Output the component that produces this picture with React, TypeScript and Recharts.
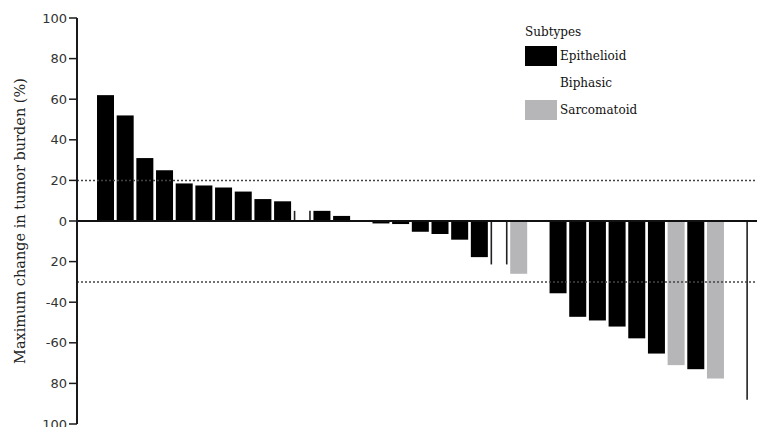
import React from 'react';
import { BarChart, Bar, XAxis, YAxis, ReferenceLine } from 'recharts';

// one bar per patient, sorted by best response
const patients = [
  'P01', 'P02', 'P03', 'P04', 'P05', 'P06', 'P07', 'P08', 'P09', 'P10',
  'P11', 'P12', 'P13', 'P14', 'P15', 'P16', 'P17', 'P18', 'P19', 'P20',
  'P21', 'P22', 'P23', 'P24', 'P25', 'P26', 'P27', 'P28', 'P29', 'P30',
  'P31', 'P32', 'P33', 'P34',
];

const maxChange = [
  62, 52, 31, 25, 18.5, 17.5, 16.5, 14.5, 10.8, 9.7,
  5, 5, 2.5, 0, -1.2, -1.5, -5.3, -6.4, -9.2, -17.8,
  -21.4, -26, 0, -35.6, -47.2, -49, -52, -57.8, -65.3, -71,
  -73, -77.6, 0, -88,
];

const subtype = [
  'Epithelioid', 'Epithelioid', 'Epithelioid', 'Epithelioid', 'Epithelioid',
  'Epithelioid', 'Epithelioid', 'Epithelioid', 'Epithelioid', 'Epithelioid',
  'Biphasic', 'Epithelioid', 'Epithelioid', 'Biphasic', 'Epithelioid',
  'Epithelioid', 'Epithelioid', 'Epithelioid', 'Epithelioid', 'Epithelioid',
  'Biphasic', 'Sarcomatoid', 'Biphasic', 'Epithelioid', 'Epithelioid',
  'Epithelioid', 'Epithelioid', 'Epithelioid', 'Epithelioid', 'Sarcomatoid',
  'Epithelioid', 'Sarcomatoid', 'Biphasic', 'Biphasic',
];

const legendItems = ['Epithelioid', 'Biphasic', 'Sarcomatoid'];

const yTicks = [100, 80, 60, 40, 20, 0, -20, -40, -60, -80, -100];
// labels as printed on the figure
const yTickLabels = ['100', '80', '60', '40', '20', '0', '20', '-40', '-60', '80', '100'];

const thresholds = [20, -30];

const fills: Record<string, string> = {
  Epithelioid: '#000000',
  Biphasic: '#ffffff',
  Sarcomatoid: '#b6b6b9',
};

const data = patients.map((id, i) => ({ id, change: maxChange[i], subtype: subtype[i] }));

function SubtypeBar(props: any) {
  const { x, y, width, height, payload } = props;
  const top = Math.min(y, y + height);
  const h = Math.abs(height);
  if (!h) return null;
  if (payload.subtype === 'Biphasic') {
    return (
      <g>
        <line x1={x + 0.8} x2={x + 0.8} y1={top} y2={top + h} stroke="#222" strokeWidth={1.6} />
        <line x1={x + width - 0.8} x2={x + width - 0.8} y1={top} y2={top + h} stroke="#222" strokeWidth={1.6} />
      </g>
    );
  }
  return <rect x={x} y={top} width={width} height={h} fill={fills[payload.subtype]} />;
}

const serif = '"DejaVu Serif", serif';

export default function App() {
  return (
    <div style={{ position: 'relative', width: 757, height: 427, overflow: 'hidden', background: '#fff' }}>
      <style>{'body{margin:0}'}</style>
      <BarChart
        width={775}
        height={427}
        data={data}
        margin={{ top: 18, right: 0, left: 0, bottom: 3 }}
        barSize={17}
      >
        <XAxis dataKey="id" hide padding={{ left: 19, right: 10 }} />
        <YAxis
          width={77}
          domain={[-100, 100]}
          ticks={yTicks}
          interval={0}
          tickFormatter={(v) => yTickLabels[yTicks.indexOf(v)] ?? String(v)}
          axisLine={{ stroke: '#1a1a1a', strokeWidth: 2 }}
          tickLine={{ stroke: '#1a1a1a', strokeWidth: 1.5 }}
          tickSize={8}
          tickMargin={2}
          tick={{ fontSize: 13, fill: '#333', fontFamily: '"DejaVu Sans", sans-serif' }}
          label={{
            content: (p: any) => {
              const vb = p.viewBox;
              const cx = 20;
              const cy = vb.y + vb.height / 2;
              return (
                <text
                  x={cx}
                  y={cy}
                  transform={`rotate(-90, ${cx}, ${cy})`}
                  textAnchor="middle"
                  dominantBaseline="central"
                  fontSize={14.5}
                  fontFamily={serif}
                  fill="#222"
                >
                  Maximum change in tumor burden (%)
                </text>
              );
            },
          }}
        />
        <Bar dataKey="change" shape={SubtypeBar} isAnimationActive={false} />
        <ReferenceLine y={0} stroke="#111" strokeWidth={2} />
        {thresholds.map((t) => (
          <ReferenceLine key={t} y={t} stroke="#444" strokeWidth={1.5} strokeDasharray="2 2" />
        ))}
      </BarChart>
      <div style={{ position: 'absolute', left: 525, top: 22, fontFamily: serif, fontSize: 12, color: '#111' }}>
        <div style={{ height: 20, lineHeight: '20px' }}>Subtypes</div>
        {legendItems.map((name) => (
          <div key={name} style={{ display: 'flex', alignItems: 'center', height: 27 }}>
            <div
              style={{
                width: 32,
                height: 20,
                background: fills[name],
                marginRight: 3,
              }}
            />
            <span>{name}</span>
          </div>
        ))}
      </div>
    </div>
  );
}
